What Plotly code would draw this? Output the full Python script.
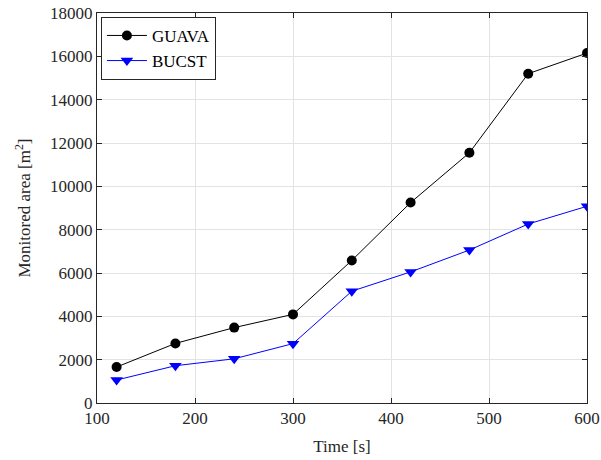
import plotly.graph_objects as go

time_s = [120, 180, 240, 300, 360, 420, 480, 540, 600]
guava = [1660, 2750, 3480, 4090, 6580, 9250, 11550, 15200, 16150]
bucst = [1060, 1720, 2040, 2740, 5160, 6050, 7060, 8260, 9080]
x_ticks = [100, 200, 300, 400, 500, 600]
y_ticks = [0, 2000, 4000, 6000, 8000, 10000, 12000, 14000, 16000, 18000]

font_family = "Times New Roman"

fig = go.Figure()
fig.add_trace(go.Scatter(
    x=time_s, y=guava, name="GUAVA", mode="lines+markers",
    line=dict(color="black", width=1),
    marker=dict(symbol="circle", size=10, color="black"),
))
fig.add_trace(go.Scatter(
    x=time_s, y=bucst, name="BUCST", mode="lines+markers",
    line=dict(color="blue", width=1),
    marker=dict(symbol="triangle-down", size=11, color="blue"),
))

axis_common = dict(
    showline=True, linecolor="#262626", linewidth=1, mirror="ticks",
    ticks="inside", ticklen=5, tickcolor="#262626",
    showgrid=True, gridcolor="#e3e3e3", gridwidth=1,
    zeroline=False, automargin=False,
    tickfont=dict(family=font_family, size=17, color="#262626"),
)

fig.update_layout(
    width=601, height=460,
    margin=dict(l=97, r=14, t=13, b=57),
    paper_bgcolor="white", plot_bgcolor="white",
    font=dict(family=font_family, color="#262626"),
    xaxis=dict(range=[100, 600], tickvals=x_ticks, ticktext=[str(v) for v in x_ticks],
               title=dict(text="Time [s]", font=dict(family=font_family, size=17), standoff=12),
               **axis_common),
    yaxis=dict(range=[0, 18000], tickvals=y_ticks, ticktext=[str(v) for v in y_ticks],
               title=dict(text="Monitored area [m<sup>2</sup>]", font=dict(family=font_family, size=17), standoff=15),
               **axis_common),
    legend=dict(x=0.008, y=0.99, xanchor="left", yanchor="top",
                bgcolor="white", bordercolor="#262626", borderwidth=1,
                font=dict(family=font_family, size=17, color="black"),
                tracegroupgap=0, itemwidth=40),
    showlegend=True,
)

fig.write_html("out.html")
